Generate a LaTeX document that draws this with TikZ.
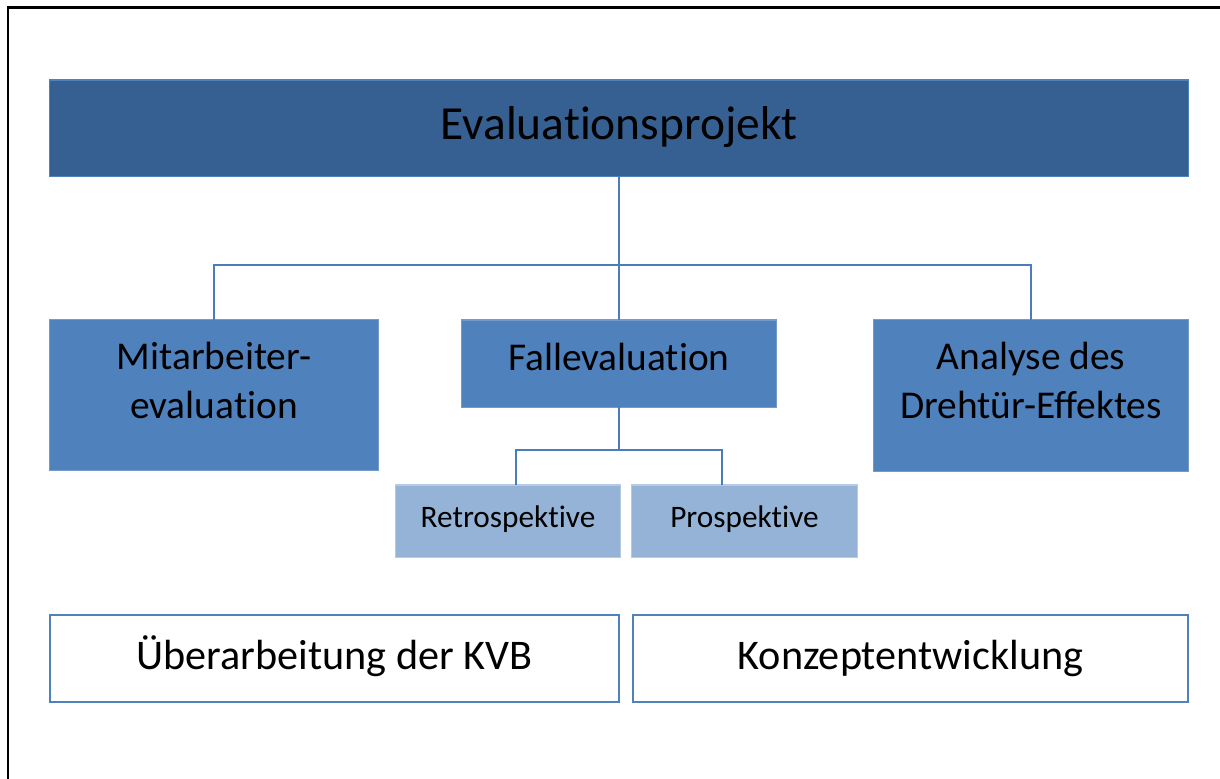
\documentclass[tikz,border=0pt]{standalone}
\usepackage{fontspec}
\setmainfont{Carlito}[Ligatures=CommonOff]
\usepackage{tikz}
\usetikzlibrary{calc, positioning}

\definecolor{dunkelblau}{RGB}{55,96,146}
\definecolor{mittelblau}{RGB}{79,129,189}
\definecolor{hellblau}{RGB}{149,179,215}
\definecolor{linienblau}{RGB}{74,126,187}

\begin{document}
\begin{tikzpicture}[x=0.01cm, y=-0.01cm,
    kasten/.style={inner sep=0pt, outer sep=0pt, line width=0.3pt},
    titelkasten/.style={kasten, fill=dunkelblau, draw=mittelblau},
    hauptkasten/.style={kasten, fill=mittelblau, draw=mittelblau!80!white},
    unterkasten/.style={kasten, fill=hellblau, draw=hellblau!70!white},
    randkasten/.style={kasten, fill=white, draw=mittelblau, line width=0.45pt},
    schrift/.style={inner sep=0pt, align=center, anchor=base, text=black},
    verbindung/.style={draw=linienblau, line width=0.4pt}]

    \useasboundingbox (0,0) rectangle (1220,778);

    % =================================================================
    % RAHMEN (nur oben und links sichtbar)
    % =================================================================
    \draw[line width=0.7pt] (8,800) -- (8,7.5) -- (1240,7.5);

    % =================================================================
    % KAESTEN
    % =================================================================
    \node[titelkasten, minimum width=11.38cm, minimum height=0.96cm] (projekt) at (619,128) {};
    \node[hauptkasten, minimum width=3.28cm, minimum height=1.5cm] (mitarbeiter) at (214,395) {};
    \node[hauptkasten, minimum width=3.14cm, minimum height=0.87cm] (fall) at (619,363.5) {};
    \node[hauptkasten, minimum width=3.14cm, minimum height=1.51cm] (drehtuer) at (1031,395.5) {};
    \node[unterkasten, minimum width=2.24cm, minimum height=0.72cm] (retro) at (508,521) {};
    \node[unterkasten, minimum width=2.25cm, minimum height=0.72cm] (pro) at (744.5,521) {};
    \node[randkasten, minimum width=5.69cm, minimum height=0.87cm] (kvb) at (334.5,658.5) {};
    \node[randkasten, minimum width=5.55cm, minimum height=0.87cm] (konzept) at (910.5,658.5) {};

    % =================================================================
    % BESCHRIFTUNGEN (anchor=base -> Grundlinie der letzten Zeile)
    % =================================================================
    \node[schrift, font=\fontsize{13.5}{16}\selectfont] (projekttext) at (619,139) {Evaluationsprojekt};
    \node[schrift, font=\fontsize{11.2}{13.7}\selectfont] (mitarbeitertext) at (214,418) {Mitarbeiter-\\evaluation};
    \node[schrift, font=\fontsize{11.2}{13.7}\selectfont] (falltext) at (619,370) {Fallevaluation};
    \node[schrift, font=\fontsize{11.2}{13.7}\selectfont] (drehtuertext) at (1031,418) {Analyse des\\Drehtür-Effektes};
    \node[schrift, font=\fontsize{8.9}{11}\selectfont] (retrotext) at (508,527) {Retrospektive};
    \node[schrift, font=\fontsize{8.9}{11}\selectfont] (protext) at (744.5,527) {Prospektive};
    \node[schrift, font=\fontsize{12}{14}\selectfont] (kvbtext) at (334.5,669) {Überarbeitung der KVB};
    \node[schrift, font=\fontsize{12}{14}\selectfont] (konzepttext) at (910.5,669) {Konzeptentwicklung};

    % =================================================================
    % VERBINDUNGEN
    % =================================================================
    \coordinate (knoten1) at (619,265);
    \coordinate (knoten2) at (619,450);

    \draw[verbindung] (projekt.south) -- (knoten1);
    \draw[verbindung] (mitarbeiter.north) |- (knoten1) -| (drehtuer.north);
    \draw[verbindung] (knoten1) -- (fall.north);

    \draw[verbindung] (fall.south) -- (knoten2);
    \draw[verbindung] ([xshift=0.08cm]retro.north) |- (knoten2) -| ([xshift=-0.225cm]pro.north);

\end{tikzpicture}
\end{document}
